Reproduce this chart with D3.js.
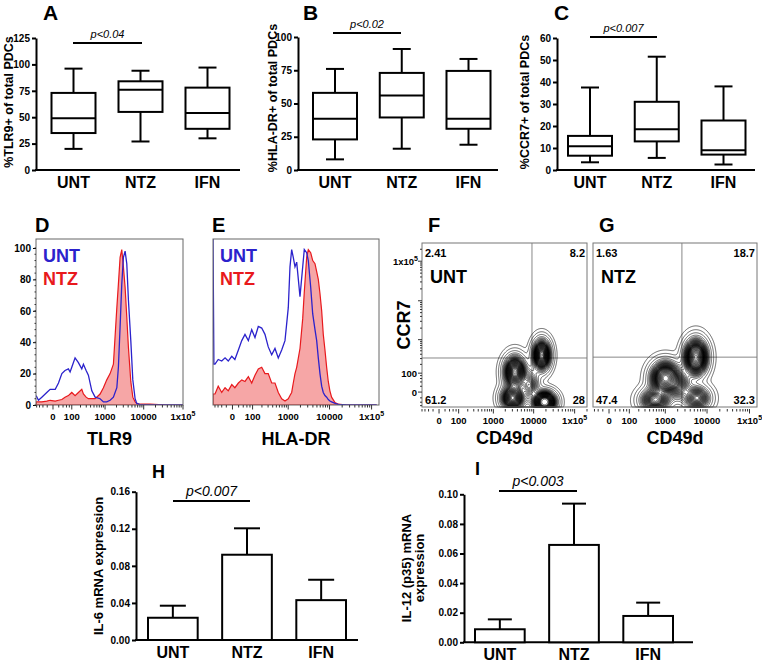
<!DOCTYPE html>
<html><head><meta charset="utf-8">
<script src="https://cdn.jsdelivr.net/npm/d3@7/dist/d3.min.js"></script>
<style>
html,body{margin:0;padding:0;background:#fff;}
svg{display:block;font-family:Arial,"Liberation Sans",Helvetica,sans-serif;}
</style></head><body>
<svg id="fig" width="762" height="665"></svg>
<script>
// ---------------- DATA ----------------
const groups = ["UNT","NTZ","IFN"];
// box plots: [min, q1, median, q3, max]
const tlr9Box  = [[20,35,49,73,96],[27,55,76,84,94],[30,39,54,78,97]];
const hladrBox = [[8,23,38.5,58,76],[16,39.5,56,73,91],[19,31,38.5,74.5,83.5]];
const ccr7Box  = [[3.5,6.5,10.8,15.5,37.5],[5.5,13,18.5,31,51.5],[2.5,7,9,22.5,38]];
const tlr9Ticks  = [0,25,50,75,100,125];
const hladrTicks = [0,25,50,75,100];
const ccr7Ticks  = [0,10,20,30,40,50,60];
// bar charts: mean and SEM
const il6Mean  = [0.024,0.092,0.043];
const il6Sem   = [0.013,0.0285,0.022];
const il12Mean = [0.0088,0.0658,0.0178];
const il12Sem  = [0.0067,0.0279,0.009];
const il6Ticks  = [0,0.04,0.08,0.12,0.16];
const il12Ticks = [0,0.02,0.04,0.06,0.08,0.10];
// histograms (fluorescence value, % of max)
const tlr9X   = [-84,-67,-46,-22,-9,7,19,34,51,73,86,100,132,171,219,246,297,346,434,538,735,903,1110,1360,1660,2040,2240,2480,2740,3020,3340,3690,4060,4680,5270,6030,6660,8100,14600,40000,100000];
const tlr9Unt = [6,3,5,8,10,10,14,20,22,23,21,24,30,27,23,26,22,19,9,5,4,2,2,3,5,11,24,50,77,94,98,90,67,41,16,4,1,0.3,0,0,0];
const tlr9Ntz = [2,2,2,2.5,3,2.5,3,3.5,5,6,7,8,6,8,10,7,5,4,4,4,7,11,16,20,26,62,77,94,99,88,75,56,37,15,5,2,1,0.5,0.5,0,0];
const hladrX   = [-95,-88,-80,-59,-40,-25,-13,-2,7,19,33,49,69,93,121,155,197,245,303,376,460,561,686,831,1005,1108,1220,1336,1472,1620,1950,2270,2480,2830,3100,3540,3960,4490,4930,5390,5910,6490,7090,7780,8540,9330,10200,11200,13500,16200,25600,132000];
const hladrUnt = [106,26,26,29,28,30,28,31,29,35,41,45,41,48,43,50,49,45,37,32,36,30,35,41,62,88,99,94,88,91,69,88,99,97,92,75,58,48,41,30,20,12,8,6,5,3.5,2.5,2,1,0.4,0,0];
const hladrNtz = [7,7,7,12,8,11,9,13,11,14,16,15,18,14,19,23,24,20,20,14,14,8,4,2.6,4,6,8,14,20,24,36,55,72,94,99,97,92,90,85,80,71,60,45,35,24,15,9,5,1.5,0.5,0,0];
const flowTicks = [0,100,1000,10000,100000];
// contour populations: [CD49d, CCR7, spread CD49d, spread CCR7 (log-like units), weight]
const untClusters = [[3460,110,0.34,0.52,1.0],[3040,-21,0.36,0.40,0.9],[15700,379,0.28,0.50,1.0],[18600,-39,0.35,0.35,1.2],[8000,25,0.30,0.50,0.4]];
const ntzClusters = [[1000,63,0.43,0.52,1.0],[555,-30,0.45,0.40,0.6],[5450,330,0.35,0.58,1.0],[5800,-21,0.40,0.40,0.5],[2250,25,0.35,0.50,0.3]];
const untQuad = ["2.41","8.2","61.2","28"];
const ntzQuad = ["1.63","18.7","47.4","32.3"];
const untGate = [9100,312];
const ntzGate = [2530,330];

// ---------------- DRAW ----------------
const FONT = 'Arial,"Liberation Sans",Helvetica,sans-serif';
const svg = d3.select("#fig");
const BLUE = "#2b22cc", RED = "#e8191d", PINK = "#f6a6a6";

function text(x,y,s,o={}){
  return svg.append("text").attr("x",x).attr("y",y).text(s)
    .attr("font-size",o.size||12).attr("font-weight",o.weight||"bold")
    .attr("font-style",o.style||"normal").attr("fill",o.fill||"#000")
    .attr("text-anchor",o.anchor||"start").attr("font-family",FONT);
}
function rtext(x,y,s,size){
  return svg.append("text").attr("transform",`translate(${x},${y}) rotate(-90)`)
    .attr("text-anchor","middle").attr("font-size",size).attr("font-weight","bold")
    .attr("font-family",FONT).text(s);
}
function styleAxis(ax,size,w){
  ax.attr("font-family",FONT);
  ax.select(".domain").attr("stroke-width",w);
  ax.selectAll(".tick line").attr("stroke-width",w);
  ax.selectAll(".tick text").attr("font-size",size).attr("font-weight","bold").attr("font-family",FONT);
}

function boxPanel(o){
  const y = d3.scaleLinear().domain([0,o.max]).range([o.yb,o.yt]);
  const x = d3.scalePoint().domain(groups).range(o.cx);
  const ax = svg.append("g").attr("transform",`translate(${o.x0},0)`)
    .call(d3.axisLeft(y).tickValues(o.ticks).tickSize(4).tickSizeOuter(0).tickPadding(2));
  styleAxis(ax,10,2);
  svg.append("line").attr("x1",o.x0-1).attr("x2",o.x1).attr("y1",o.yb).attr("y2",o.yb).attr("stroke","#000").attr("stroke-width",2);
  const g = svg.append("g").attr("stroke","#000").attr("stroke-width",2).attr("fill","none");
  o.data.forEach((d,i)=>{
    const c = x(groups[i]), w = 44, cw = 18;
    g.append("rect").attr("x",c-w/2).attr("y",y(d[3])).attr("width",w).attr("height",y(d[1])-y(d[3]));
    g.append("line").attr("x1",c-w/2).attr("x2",c+w/2).attr("y1",y(d[2])).attr("y2",y(d[2]));
    g.append("line").attr("x1",c).attr("x2",c).attr("y1",y(d[3])).attr("y2",y(d[4]));
    g.append("line").attr("x1",c).attr("x2",c).attr("y1",y(d[1])).attr("y2",y(d[0]));
    g.append("line").attr("x1",c-cw/2).attr("x2",c+cw/2).attr("y1",y(d[4])).attr("y2",y(d[4]));
    g.append("line").attr("x1",c-cw/2).attr("x2",c+cw/2).attr("y1",y(d[0])).attr("y2",y(d[0]));
    text(c,188,groups[i],{size:16,anchor:"middle"});
  });
  svg.append("line").attr("x1",o.p1).attr("x2",o.p2).attr("y1",o.py).attr("y2",o.py).attr("stroke","#000").attr("stroke-width",2);
  text((o.p1+o.p2)/2,o.py-5,o.p,{size:11,weight:"normal",style:"italic",anchor:"middle"});
  rtext(o.tx,o.ty,o.title,12.5);
  text(o.lx,20,o.letter,{size:21});
}

boxPanel({x0:36,x1:240,yb:170,yt:38,max:125,ticks:tlr9Ticks,cx:[73.5,207.5],data:tlr9Box,
  p:"p<0.04",p1:73,p2:142,py:43,title:"%TLR9+ of total PDCs",tx:13,ty:102,letter:"A",lx:43});
boxPanel({x0:298,x1:498,yb:170,yt:37,max:100,ticks:hladrTicks,cx:[335,468.5],data:hladrBox,
  p:"p<0.02",p1:333,p2:401,py:33,title:"%HLA-DR+ of total PDCs",tx:277,ty:98,letter:"B",lx:303});
boxPanel({x0:557,x1:755,yb:170,yt:38,max:60,ticks:ccr7Ticks,cx:[590,723.5],data:ccr7Box,
  p:"p<0.007",p1:590,p2:657,py:37,title:"%CCR7+ of total PDCs",tx:529,ty:102,letter:"C",lx:554});

// ---- flow helpers ----
function flowXAxis(xs,yb){
  const g = svg.append("g").attr("stroke","#333").attr("stroke-width",1);
  const [d0,d1] = xs.domain();
  const minor = [-80,-60,-40,-20,20,40,60,80].concat(d3.range(200,1000,100),d3.range(2000,10000,1000),d3.range(20000,100000,10000),[200000])
    .filter(v=>v>=d0&&v<=d1);
  minor.forEach(v=>g.append("line").attr("x1",xs(v)).attr("x2",xs(v)).attr("y1",yb).attr("y2",yb+2.5));
  flowTicks.filter(v=>v<=d1).forEach(v=>{
    g.append("line").attr("x1",xs(v)).attr("x2",xs(v)).attr("y1",yb).attr("y2",yb+4.5);
    const t = text(xs(v),yb+15,"",{size:9.5,anchor:"middle"});
    if (v===100000){ t.append("tspan").text("1x10"); t.append("tspan").attr("dy",-4).attr("font-size",7).text("5"); }
    else t.text(v);
  });
}

function histPanel(o){
  const xs = d3.scaleSymlog().constant(50).domain(o.dom).range([o.x0,o.x1]);
  const y = d3.scaleLinear().domain([0,100]).range([405,248]);
  const id = "clip"+o.letter;
  svg.append("clipPath").attr("id",id).append("rect").attr("x",o.x0).attr("y",239).attr("width",o.x1-o.x0).attr("height",166);
  const pts = (xa,ya)=>xa.map((v,i)=>[v,ya[i]]);
  const g = svg.append("g").attr("clip-path",`url(#${id})`);
  g.append("path").datum(pts(o.xv,o.ntz))
    .attr("d",d3.area().x(d=>xs(d[0])).y0(y(0)).y1(d=>y(d[1])))
    .attr("fill",PINK).attr("stroke",RED).attr("stroke-width",1.2);
  g.append("path").datum(pts(o.xv,o.unt))
    .attr("d",d3.line().x(d=>xs(d[0])).y(d=>y(d[1])))
    .attr("fill","none").attr("stroke",BLUE).attr("stroke-width",1.3);
  svg.append("rect").attr("x",o.x0).attr("y",239).attr("width",o.x1-o.x0).attr("height",166)
    .attr("fill","none").attr("stroke","#666").attr("stroke-width",1);
  flowXAxis(xs,405);
  if (o.yaxis){
    const ax = svg.append("g").attr("transform",`translate(${o.x0},0)`)
      .call(d3.axisLeft(y).tickValues([0,20,40,60,80,100]).tickSize(3).tickSizeOuter(0).tickPadding(2));
    styleAxis(ax,10,1);
    ax.select(".domain").remove();
    d3.range(0,101,4).forEach(v=>svg.append("line").attr("x1",o.x0-1.5).attr("x2",o.x0).attr("y1",y(v)).attr("y2",y(v)).attr("stroke","#333"));
  }
  text(o.x0+7,262,"UNT",{size:18,fill:BLUE});
  text(o.x0+7,285,"NTZ",{size:18,fill:RED});
  text((o.x0+o.x1)/2,445,o.xlab,{size:18,anchor:"middle"});
  text(o.x0-1,232,o.letter,{size:20});
}
histPanel({letter:"D",x0:36,x1:183,dom:[-85,100000],xv:tlr9X,unt:tlr9Unt,ntz:tlr9Ntz,yaxis:true,xlab:"TLR9"});
histPanel({letter:"E",x0:213,x1:379,dom:[-95,150000],xv:hladrX,unt:hladrUnt,ntz:hladrNtz,yaxis:false,xlab:"HLA-DR"});

// ---- contour panels ----
const flowYDom = [-69,288000];
const sym = v=>Math.sign(v)*Math.log1p(Math.abs(v)/50);
function contourPanel(o){
  const y0=243,y1=407;
  const xs = d3.scaleSymlog().constant(50).domain(o.dom).range([o.x0,o.x1]);
  const ys = d3.scaleSymlog().constant(50).domain(flowYDom).range([y1,y0]);
  const kx = (o.x1-o.x0)/(sym(o.dom[1])-sym(o.dom[0]));
  const ky = (y1-y0)/(sym(flowYDom[1])-sym(flowYDom[0]));
  const S = 2; // supersampling
  const W = Math.round(o.x1-o.x0)*S, H = (y1-y0)*S;
  const cl = o.clusters.map(c=>({px:(xs(c[0])-o.x0)*S,py:(ys(c[1])-y0)*S,sx:c[2]*kx*S,sy:c[3]*ky*S,w:c[4]}));
  const vals = new Float64Array(W*H);
  for (let j=0;j<H;j++) for (let i=0;i<W;i++){
    let s=0;
    for (const c of cl){ const dx=(i+0.5-c.px)/c.sx, dy=(j+0.5-c.py)/c.sy; s+=c.w*Math.exp(-0.5*(dx*dx+dy*dy)); }
    vals[i+j*W]=s;
  }
  const arr = Array.from(vals).sort((a,b)=>b-a);
  const tot = d3.sum(arr);
  const levels = d3.range(0.025,0.976,0.025).concat([0.99,0.997]);
  const th=[]; let cum=0,k=0;
  for (const v of arr){ cum+=v; while(k<levels.length && cum>=levels[k]*tot){ th.push(v); k++; } }
  th.sort((a,b)=>a-b);
  const gx = xs(o.gate[0]), gy = ys(o.gate[1]);
  svg.append("line").attr("x1",gx).attr("x2",gx).attr("y1",y0).attr("y2",y1).attr("stroke","#888");
  svg.append("line").attr("x1",o.x0).attr("x2",o.x1).attr("y1",gy).attr("y2",gy).attr("stroke","#888");
  const cs = d3.contours().size([W,H]).thresholds(th)(vals);
  svg.append("g").attr("transform",`translate(${o.x0},${y0}) scale(${1/S})`).selectAll("path").data(cs).join("path")
    .attr("d",d3.geoPath()).attr("fill","none").attr("stroke","#000").attr("stroke-width",0.6*S);
  svg.append("rect").attr("x",o.x0).attr("y",y0).attr("width",o.x1-o.x0).attr("height",y1-y0)
    .attr("fill","none").attr("stroke","#777").attr("stroke-width",1);
  flowXAxis(xs,y1+2);
  const q=o.quad;
  text(o.x0+3,257,q[0],{size:11});
  text(o.x1-2,257,q[1],{size:11,anchor:"end"});
  text(o.x0+3,404,q[2],{size:11});
  text(o.x1-2,404,q[3],{size:11,anchor:"end"});
  text(o.x0+8,283,o.name,{size:18});
  text((o.x0+o.x1)/2,444,"CD49d",{size:18,anchor:"middle"});
  text(o.x0+6,232,o.letter,{size:20});
  if (o.yaxis){
    const g = svg.append("g").attr("stroke","#333");
    [0,100,1000,10000,100000].forEach(v=>g.append("line").attr("x1",o.x0-4).attr("x2",o.x0).attr("y1",ys(v)).attr("y2",ys(v)));
    [-60,-40,-20,20,40,60,80].concat(d3.range(200,1000,100),d3.range(2000,10000,1000),d3.range(20000,100000,10000),[200000])
      .forEach(v=>g.append("line").attr("x1",o.x0-2).attr("x2",o.x0).attr("y1",ys(v)).attr("y2",ys(v)));
    text(o.x0-5,ys(0)+3.5,"0",{size:9.5,anchor:"end"});
    text(o.x0-5,ys(100)+3.5,"100",{size:9.5,anchor:"end"});
    const t = text(o.x0-4,ys(100000)+3.5,"",{size:9.5,anchor:"end"});
    t.append("tspan").text("1x10"); t.append("tspan").attr("dy",-4).attr("font-size",7).text("5");
    rtext(410,325,"CCR7",18);
  }
}
contourPanel({letter:"F",name:"UNT",x0:422,x1:587,dom:[-80,200000],clusters:untClusters,quad:untQuad,gate:untGate,yaxis:true});
contourPanel({letter:"G",name:"NTZ",x0:593,x1:757,dom:[-69,150000],clusters:ntzClusters,quad:ntzQuad,gate:ntzGate,yaxis:false});

// ---- bar panels ----
function barPanel(o){
  const y = d3.scaleLinear().domain([0,o.max]).range([o.yb,o.yt]);
  const x = d3.scaleBand().domain(groups).range(o.xr).paddingInner(0.33);
  const ax = svg.append("g").attr("transform",`translate(${o.x0},0)`)
    .call(d3.axisLeft(y).tickValues(o.ticks).tickFormat(d3.format(".2f")).tickSize(4).tickSizeOuter(0).tickPadding(2));
  styleAxis(ax,10,2);
  svg.append("line").attr("x1",o.x0-1).attr("x2",o.x1).attr("y1",o.yb).attr("y2",o.yb).attr("stroke","#000").attr("stroke-width",2);
  const g = svg.append("g").attr("stroke","#000").attr("stroke-width",2);
  groups.forEach((k,i)=>{
    const bx = x(k), bw = x.bandwidth(), c = bx+bw/2, top = y(o.mean[i]), et = y(o.mean[i]+o.sem[i]);
    g.append("line").attr("x1",c).attr("x2",c).attr("y1",top).attr("y2",et);
    g.append("line").attr("x1",c-o.cap/2).attr("x2",c+o.cap/2).attr("y1",et).attr("y2",et);
    g.append("rect").attr("x",bx).attr("y",top).attr("width",bw).attr("height",o.yb-top).attr("fill","#fff");
    text(c,o.ly,k,{size:16,anchor:"middle"});
  });
  svg.append("line").attr("x1",o.p1).attr("x2",o.p2).attr("y1",o.py).attr("y2",o.py).attr("stroke","#000").attr("stroke-width",2);
  text((o.p1+o.p2)/2,o.py-5,o.p,{size:14,weight:"normal",style:"italic",anchor:"middle"});
  text(o.lx,o.lyL,o.letter,{size:18});
}
barPanel({x0:136,x1:358,yb:640,yt:491.7,max:0.16,ticks:il6Ticks,xr:[148,346],mean:il6Mean,sem:il6Sem,cap:26,ly:658,
  p:"p<0.007",p1:173,p2:250,py:501,letter:"H",lx:152,lyL:478});
rtext(103,566,"IL-6 mRNA expression",13);
barPanel({x0:464,x1:693,yb:642.3,yt:494.3,max:0.10,ticks:il12Ticks,xr:[475,673],mean:il12Mean,sem:il12Sem,cap:24,ly:660,
  p:"p<0.003",p1:499,p2:577,py:491,letter:"I",lx:475,lyL:475});
rtext(411,568,"IL-12 (p35) mRNA",13);
rtext(424,568,"expression",13);
</script></body></html>
